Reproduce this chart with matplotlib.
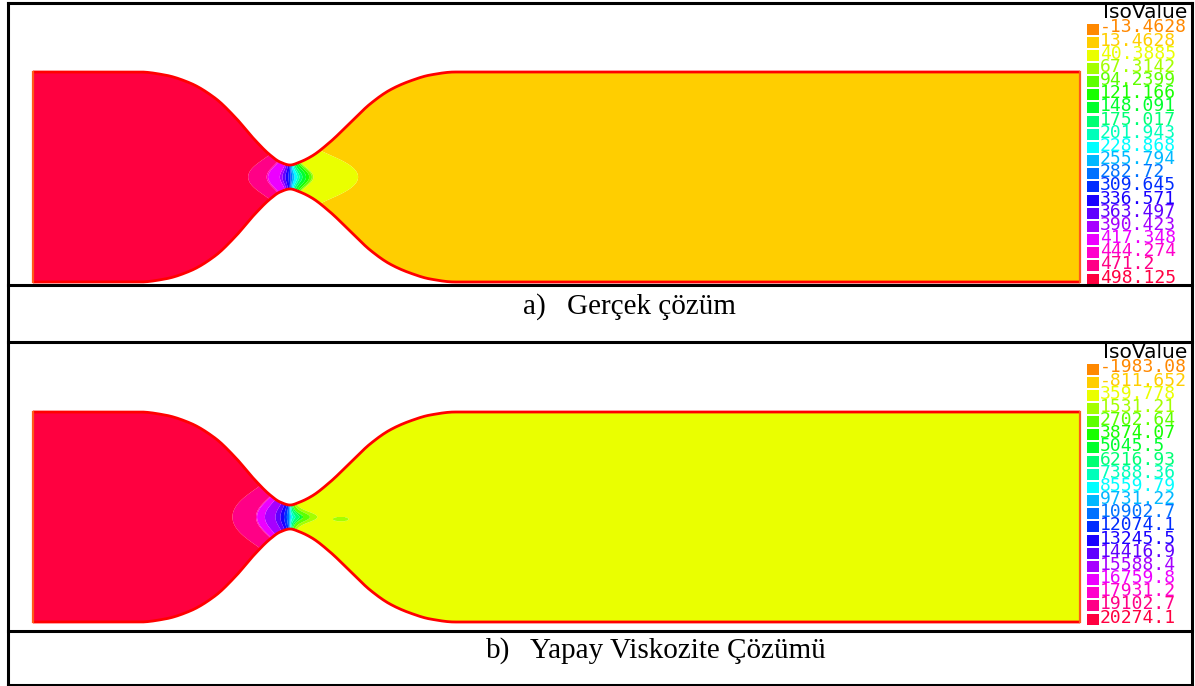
import numpy as np
import matplotlib
matplotlib.use("Agg")
import matplotlib.pyplot as plt
from matplotlib.colors import hsv_to_rgb, ListedColormap, BoundaryNorm
from matplotlib.patches import Polygon

# ---------------------------------------------------------------- data
# IsoValue legends of the two solutions
iso_a = [-13.4628, 13.4628, 40.3885, 67.3142, 94.2399, 121.166, 148.091,
         175.017, 201.943, 228.868, 255.794, 282.72, 309.645, 336.571,
         363.497, 390.423, 417.348, 444.274, 471.2, 498.125]
iso_b = [-1983.08, -811.652, 359.778, 1531.21, 2702.64, 3874.07, 5045.5,
         6216.93, 7388.36, 8559.79, 9731.22, 10902.7, 12074.1, 13245.5,
         14416.9, 15588.4, 16759.8, 17931.2, 19102.7, 20274.1]

# nozzle wall: axial station and half-height (inlet half-height = 1)
wall_x = [0.0, 1.022, 1.261, 1.50, 1.738, 1.929, 2.12, 2.264, 2.359, 2.455,
          2.55, 2.665, 2.837, 3.028, 3.219, 3.41, 3.601, 3.792, 4.031, 10.0]
wall_r = [1.0, 1.0, 0.971, 0.895, 0.752, 0.571, 0.352, 0.21, 0.143, 0.114,
          0.143, 0.2, 0.333, 0.514, 0.695, 0.829, 0.914, 0.971, 1.0, 1.0]
throat_x = 2.455

# solution along the axis vs. distance from the throat
prof_a_d = [-9.0, -0.41, -0.39, -0.23, -0.21, -0.11, -0.06, -0.02, 0.01,
            0.03, 0.07, 0.10, 0.17, 0.21, 0.23, 0.64, 0.66, 9.0]
prof_a_v = [498.125, 498.125, 471.2, 471.2, 430.0, 417.0, 363.0, 330.0,
            290.0, 255.0, 215.0, 175.0, 121.0, 80.0, 40.3885, 40.3885,
            13.4628, 13.4628]

prof_b_d = [-9.0, -0.56, -0.54, -0.33, -0.31, -0.17, -0.11, -0.04, 0.0,
            0.03, 0.11, 0.13, 0.25, 0.27, 9.0]
prof_b_v = [20274.1, 20274.1, 19102.7, 19102.7, 16759.8, 15588.4, 14416.9,
            12074.1, 9731.22, 7388.36, 5045.5, 2702.64, 1531.21, 359.778,
            359.778]

# small detached pocket downstream of the throat (solution b)
pocket_b_x, pocket_b_y = 2.94, -0.02
pocket_b_rx, pocket_b_ry = 0.075, 0.022
pocket_b_v = 1531.21

captions = [("a)", "Gerçek çözüm"), ("b)", "Yapay Viskozite Çözümü")]

# ---------------------------------------------------------------- helpers
W, H = 1195, 686


def level_colors(n):
    hues = np.linspace(32, 345, n) / 360.0
    return hsv_to_rgb(np.stack([hues, np.ones(n), np.ones(n)], axis=1))


def pchip(xk, yk, x):
    xk = np.asarray(xk, float)
    yk = np.asarray(yk, float)
    h = np.diff(xk)
    delta = np.diff(yk) / h
    m = np.zeros_like(yk)
    for i in range(1, len(xk) - 1):
        if delta[i - 1] * delta[i] > 0:
            w1 = 2 * h[i] + h[i - 1]
            w2 = h[i] + 2 * h[i - 1]
            m[i] = (w1 + w2) / (w1 / delta[i - 1] + w2 / delta[i])
    i = np.clip(np.searchsorted(xk, x) - 1, 0, len(h) - 1)
    t = (x - xk[i]) / h[i]
    h00 = 2 * t**3 - 3 * t**2 + 1
    h10 = t**3 - 2 * t**2 + t
    h01 = -2 * t**3 + 3 * t**2
    h11 = t**3 - t**2
    return h00 * yk[i] + h10 * h[i] * m[i] + h01 * yk[i + 1] + h11 * h[i] * m[i + 1]


xs = np.linspace(0, 10, 2001)
rs = pchip(wall_x, wall_r, xs)


def draw_nozzle(rect, iso, pd, pv, k_left, k_right, pocket=None, soft=0.15):
    ax = fig.add_axes(rect)
    ax.set_xlim(0, 10)
    ax.set_ylim(-1, 1)
    ax.axis("off")
    colors = level_colors(len(iso))
    step = iso[1] - iso[0]
    bounds = [iso[0] - step / 2] + [(iso[i] + iso[i + 1]) / 2 for i in range(len(iso) - 1)] \
        + [iso[-1] + step / 2]
    cmap = ListedColormap(colors)
    norm = BoundaryNorm(bounds, cmap.N)

    X, Y = np.meshgrid(np.linspace(0, 10, 1800), np.linspace(-1, 1, 500))
    dx = X - throat_x
    adx = np.abs(dx)
    # iso-lines are flat across the throat and close into round lobes further out
    k = np.where(dx < 0, k_left, k_right) * adx / (adx + soft)
    dist = np.sign(dx) * np.sqrt(dx**2 + (k * Y) ** 2)
    F = np.interp(dist, pd, pv)
    if pocket is not None:
        px, py, rx, ry, pvv = pocket
        inside = ((X - px) / rx) ** 2 + ((Y - py) / ry) ** 2 < 1
        F = np.where(inside, pvv, F)
    F = np.clip(F, bounds[0] + 1e-9, bounds[-1] - 1e-9)
    cs = ax.contourf(X, Y, F, levels=bounds, cmap=cmap, norm=norm, antialiased=True)

    outline = np.concatenate([np.column_stack([xs, rs]),
                              np.column_stack([xs[::-1], -rs[::-1]])])
    clip = Polygon(outline, closed=True, transform=ax.transData, facecolor="none",
                   edgecolor="none")
    ax.add_patch(clip)
    cs.set_clip_path(clip)

    ax.plot(xs, rs, color="#ff0000", lw=2.0, clip_on=False, solid_capstyle="butt")
    ax.plot(xs, -rs, color="#ff0000", lw=2.0, clip_on=False, solid_capstyle="butt")
    ax.plot([0, 0], [-1, 1], color="#ff5a1a", lw=1.6, clip_on=False)
    ax.plot([10, 10], [-1, 1], color="#ff5a1a", lw=1.6, clip_on=False)
    return ax


fig = plt.figure(figsize=(W / 100, H / 100), dpi=100)

x_left, x_right = 33, 1080
panels = [
    (72, iso_a, prof_a_d, prof_a_v, 2.9, 3.5, None),
    (412, iso_b, prof_b_d, prof_b_v, 2.4, 6.9,
     (pocket_b_x, pocket_b_y, pocket_b_rx, pocket_b_ry, pocket_b_v)),
]
for top, iso, pd, pv, kl, kr, pk in panels:
    rect = [x_left / W, 1 - (top + 210) / H, (x_right - x_left) / W, 210 / H]
    draw_nozzle(rect, iso, pd, pv, kl, kr, pk)

# ---------------------------------------------------------------- frame, legends, captions
ov = fig.add_axes([0, 0, 1, 1], zorder=5)
ov.set_xlim(0, W)
ov.set_ylim(H, 0)
ov.axis("off")

line_kw = dict(color="black", lw=2.2, solid_capstyle="projecting")
ov.plot([8, 8], [3, H], **line_kw)
ov.plot([1192, 1192], [3, H], **line_kw)
for yy in (3, 285, 342, 631, 685):
    ov.plot([8, 1192], [yy, yy], **line_kw)

mono = "DejaVu Sans Mono"
for (top, iso, *_), oy in zip(panels, (0, 340)):
    cols = level_colors(len(iso))
    ov.text(1103, 13 + oy, "IsoValue", fontsize=14.5, family="DejaVu Sans",
            color="black", ha="left", va="center")
    for i, v in enumerate(iso):
        yc = 29 + oy + i * 13.16
        ov.add_patch(plt.Rectangle((1087, yc - 5.5), 12, 11, facecolor=cols[i],
                                   edgecolor="none"))
        ov.text(1100, yc - 1.5, f"{v:g}", fontsize=13, family=mono, color=cols[i],
                ha="left", va="center")

serif = "Liberation Serif"
for (tag, text), (xt, xx, yy) in zip(captions, [(523, 567, 307), (486, 530, 651)]):
    ov.text(xt, yy, tag, fontsize=21, family=serif, ha="left", va="center")
    ov.text(xx, yy, text, fontsize=21, family=serif, ha="left", va="center")

fig.savefig("out.png", dpi=100)
